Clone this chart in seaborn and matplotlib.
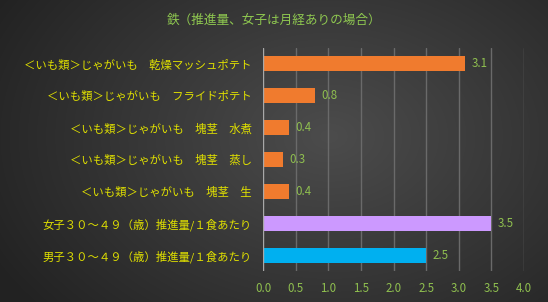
import numpy as np
import pandas as pd
import matplotlib
matplotlib.use("Agg")
import matplotlib.pyplot as plt
import seaborn as sns

title = "鉄（推進量、女子は月経ありの場合）"
categories = [
    "＜いも類＞じゃがいも　乾燥マッシュポテト",
    "＜いも類＞じゃがいも　フライドポテト",
    "＜いも類＞じゃがいも　塊茎　水煮",
    "＜いも類＞じゃがいも　塊茎　蒸し",
    "＜いも類＞じゃがいも　塊茎　生",
    "女子３０～４９（歳）推進量/１食あたり",
    "男子３０～４９（歳）推進量/１食あたり",
]
values = [3.1, 0.8, 0.4, 0.3, 0.4, 3.5, 2.5]
colors = ["#f07b2e", "#f07b2e", "#f07b2e", "#f07b2e", "#f07b2e", "#cc99ff", "#00b0f0"]
xticks = [0.0, 0.5, 1.0, 1.5, 2.0, 2.5, 3.0, 3.5, 4.0]

sns.set_theme(style="dark")
plt.rcParams['font.family'] = ['Noto Sans CJK JP', 'DejaVu Sans']

W, H = 548, 302
fig = plt.figure(figsize=(W / 100, H / 100), dpi=100)

# radial gradient background
bg = fig.add_axes([0, 0, 1, 1], zorder=0)
yy, xx = np.mgrid[0:H, 0:W]
cx, cy = W * 0.6, H * 0.45
r = np.sqrt(((xx - cx) / (W * 0.7)) ** 2 + ((yy - cy) / (H * 0.9)) ** 2)
r = np.clip(r, 0, 1)
c0 = np.array([0x4c, 0x4c, 0x4c]) / 255
c1 = np.array([0x22, 0x22, 0x22]) / 255
img = c0[None, None, :] * (1 - r[..., None]) + c1[None, None, :] * r[..., None]
bg.imshow(img, aspect="auto", extent=[0, 1, 0, 1])
bg.axis("off")

ax = fig.add_axes([263 / W, 1 - 271 / H, (524 - 263) / W, (271 - 48) / H], zorder=1)
ax.patch.set_alpha(0)

df = pd.DataFrame({"cat": categories, "val": values})
sns.barplot(data=df, x="val", y="cat", hue="cat", palette=dict(zip(categories, colors)),
            orient="h", width=0.47, legend=False, ax=ax, saturation=1,
            linewidth=0, edgecolor="none", zorder=2)

ax.set_xlim(0, 4.0)
ax.set_ylim(6.5, -0.5)
ax.set_xticks(xticks)
ax.set_xticklabels([f"{t:.1f}" for t in xticks], color="#8fbf4f", fontsize=8.3)
ax.tick_params(axis="x", length=0, pad=8)
ax.tick_params(axis="y", length=0, pad=8)
for lab in ax.get_yticklabels():
    lab.set_color("#e0e000")
    lab.set_fontsize(8.2)
ax.set_xlabel("")
ax.set_ylabel("")
for s in ax.spines.values():
    s.set_visible(False)
for t in xticks[1:]:
    ax.axvline(t, color="#6a6a6a", linewidth=1.0, zorder=1)
ax.axvline(0, color="#a8a8a8", linewidth=1.0, zorder=3)

for i, v in enumerate(values):
    ax.text(v + 0.1, i, f"{v:.1f}", va="center", ha="left", color="#8fbf4f", fontsize=8.3)

fig.text(0.5, 1 - 20 / H, title, ha="center", va="center", color="#8fc850", fontsize=9.1)

fig.savefig("out.png", dpi=100)
